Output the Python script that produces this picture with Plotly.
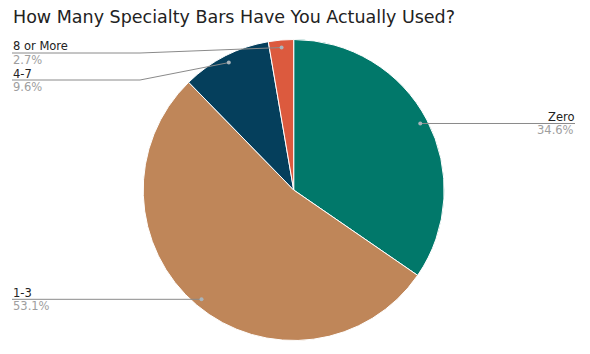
import math
import plotly.graph_objects as go

# ---- data ----
categories = ["Zero", "1-3", "4-7", "8 or More"]
percent_values = [34.6, 53.1, 9.6, 2.7]
percent_labels = ["34.6%", "53.1%", "9.6%", "2.7%"]
slice_colors = ["#01786a", "#bf8659", "#053f5c", "#dc5a3e"]
title_text = "How Many Specialty Bars Have You Actually Used?"

# ---- layout constants (pixels) ----
W, H = 590, 354
CX, CY, R = 293.7, 190.0, 150.5
label_side = ["right", "left", "left", "left"]
label_line_y = [124, 300, 80, 53]
elbow_x = 140
left_edge, right_edge = 12, 575
line_color = "#8a8a8a"
label_font_size = 11.5
label_offset = 6.5


def px(x):
    return x / W


def py(y):
    return 1 - y / H


fig = go.Figure()
fig.add_trace(go.Pie(
    labels=categories,
    values=percent_values,
    marker=dict(colors=slice_colors, line=dict(color="white", width=1)),
    sort=False,
    direction="clockwise",
    rotation=0,
    textinfo="none",
    hoverinfo="label+percent",
    showlegend=False,
    domain=dict(x=[px(CX - R), px(CX + R)], y=[py(CY + R), py(CY - R)]),
))

shapes = []
annotations = []
total = sum(percent_values)
cum = 0.0
for i, v in enumerate(percent_values):
    mid = 2 * math.pi * (cum + v / 2) / total
    cum += v
    dx = CX + 0.95 * R * math.sin(mid)
    dy = CY - 0.95 * R * math.cos(mid)
    ly = label_line_y[i]
    side = label_side[i]
    edge = left_edge if side == "left" else right_edge
    if abs(ly - dy) < 3:
        ly = dy
        path = f"M {px(dx)},{py(dy)} L {px(edge)},{py(ly)}"
    else:
        path = (f"M {px(dx)},{py(dy)} L {px(elbow_x)},{py(ly)} "
                f"L {px(edge)},{py(ly)}")
    shapes.append(dict(type="path", xref="paper", yref="paper", path=path,
                       line=dict(color=line_color, width=1)))
    shapes.append(dict(type="circle", xref="paper", yref="paper",
                       x0=px(dx - 2), x1=px(dx + 2), y0=py(dy + 2), y1=py(dy - 2),
                       fillcolor="#a9b4bb", line=dict(width=0)))
    xanchor = "left" if side == "left" else "right"
    annotations.append(dict(xref="paper", yref="paper", x=px(edge),
                            y=py(ly - label_offset), borderpad=0,
                            text=categories[i], showarrow=False, xanchor=xanchor,
                            yanchor="middle",
                            font=dict(family="DejaVu Sans", size=label_font_size,
                                      color="#222222")))
    annotations.append(dict(xref="paper", yref="paper", x=px(edge),
                            y=py(ly + label_offset + 0.5), borderpad=0,
                            text=percent_labels[i], showarrow=False, xanchor=xanchor,
                            yanchor="middle",
                            font=dict(family="DejaVu Sans", size=label_font_size,
                                      color="#9e9e9e")))

annotations.append(dict(xref="paper", yref="paper", x=px(11), y=py(17),
                        text=title_text, showarrow=False, xanchor="left",
                        yanchor="middle",
                        font=dict(family="DejaVu Sans", size=17.5, color="#222222")))

fig.update_layout(
    width=W, height=H,
    margin=dict(l=0, r=0, t=0, b=0),
    paper_bgcolor="white",
    plot_bgcolor="white",
    shapes=shapes,
    annotations=annotations,
)

fig.write_html("out.html")
